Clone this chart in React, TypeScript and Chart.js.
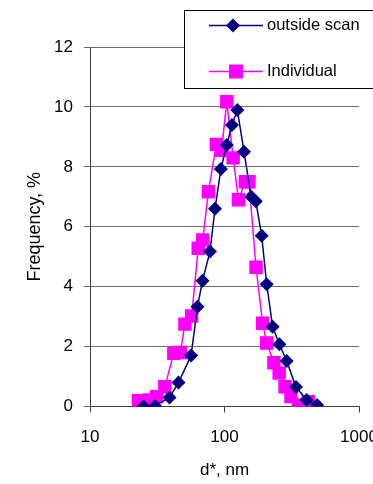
import React, { useEffect, useRef } from "react";
import { Chart, registerables } from "chart.js";

Chart.register(...registerables);

// d*, nm and Frequency, %
const outsideScanD = [25, 30.5, 39, 45.5, 56.4, 63, 68.6, 78, 85, 94, 104, 113.6, 124.6, 139.7, 158, 171, 189, 206, 228, 256, 290, 340, 408, 488];
const outsideScanF = [0, 0.02, 0.3, 0.8, 1.7, 3.33, 4.2, 5.17, 6.6, 7.93, 8.73, 9.4, 9.9, 8.5, 7.0, 6.85, 5.7, 4.08, 2.66, 2.08, 1.52, 0.65, 0.22, 0.05];

const individualD = [22.9, 27.5, 31.3, 36, 42, 47, 50.8, 57, 63.8, 68.9, 75.9, 87, 95, 104, 116, 127, 143, 152, 171.5, 192, 206, 233, 255, 282, 312, 354, 420];
const individualF = [0.19, 0.22, 0.33, 0.66, 1.78, 1.8, 2.75, 3.02, 5.28, 5.56, 7.17, 8.75, 8.55, 10.17, 8.3, 6.9, 7.5, 7.5, 4.65, 2.78, 2.12, 1.46, 1.12, 0.66, 0.33, 0.05, 0.16];

const seriesNames = ["outside scan", "Individual"];
const xTicks = [10, 100, 1000];
const yMin = 0;
const yMax = 12;
const yStep = 2;
const xTitle = "d*, nm";
const yTitle = "Frequency, %";

const FONT = "'Liberation Sans', Arial, sans-serif";

const legendPlugin = {
  id: "boxLegend",
  afterDraw(chart: any) {
    const ctx = chart.ctx;
    const ds = chart.data.datasets;
    ctx.save();
    const bx = 184.5, by = 10.5, bw = 230, bh = 78;
    ctx.fillStyle = "#ffffff";
    ctx.fillRect(bx, by, bw, bh);
    ctx.strokeStyle = "#000000";
    ctx.lineWidth = 1;
    ctx.strokeRect(bx, by, bw, bh);
    const rows = [25.5, 71.5];
    ds.forEach((d: any, i: number) => {
      const y = rows[i];
      ctx.strokeStyle = d.borderColor;
      ctx.lineWidth = 1.5;
      ctx.beginPath();
      ctx.moveTo(209, y);
      ctx.lineTo(263, y);
      ctx.stroke();
      ctx.fillStyle = d.pointBackgroundColor;
      ctx.beginPath();
      if (d.pointStyle === "rectRot") {
        const cx = 233, r = 7;
        ctx.moveTo(cx, y - r);
        ctx.lineTo(cx + r, y);
        ctx.lineTo(cx, y + r);
        ctx.lineTo(cx - r, y);
        ctx.closePath();
      } else {
        const cx = 236, s = 7;
        ctx.rect(cx - s, y - s, 2 * s, 2 * s);
      }
      ctx.fill();
      ctx.fillStyle = "#000000";
      ctx.font = `16.5px ${FONT}`;
      ctx.textAlign = "left";
      ctx.textBaseline = "middle";
      ctx.fillText(d.label, 267, y);
    });
    ctx.restore();
  },
};

export default function App() {
  const ref = useRef<HTMLCanvasElement | null>(null);

  useEffect(() => {
    if (!ref.current) return;
    const toPts = (xs: number[], ys: number[]) => xs.map((x, i) => ({ x, y: ys[i] }));
    const chart = new Chart(ref.current, {
      type: "line",
      data: {
        datasets: [
          {
            label: seriesNames[0],
            data: toPts(outsideScanD, outsideScanF),
            borderColor: "#000080",
            backgroundColor: "#000080",
            pointBackgroundColor: "#000080",
            pointBorderColor: "#000080",
            pointBorderWidth: 0,
            borderWidth: 1.5,
            pointStyle: "rectRot",
            pointRadius: 7,
            tension: 0,
          },
          {
            label: seriesNames[1],
            data: toPts(individualD, individualF),
            borderColor: "#ff00ff",
            backgroundColor: "#ff00ff",
            pointBackgroundColor: "#ff00ff",
            pointBorderColor: "#ff00ff",
            pointBorderWidth: 0,
            borderWidth: 1.5,
            pointStyle: "rect",
            pointRadius: 9.5,
            tension: 0,
          },
        ],
      },
      options: {
        animation: false,
        responsive: false,
        devicePixelRatio: 1,
        layout: { padding: { left: 0, right: 41, top: 47, bottom: 0 } },
        plugins: { legend: { display: false }, tooltip: { enabled: false } },
        scales: {
          x: {
            type: "logarithmic",
            min: 10,
            max: 1000,
            afterBuildTicks: (scale: any) => {
              scale.ticks = xTicks.map((v) => ({ value: v }));
            },
            afterFit: (scale: any) => {
              scale.height = 77.5;
            },
            grid: { drawOnChartArea: false, drawTicks: true, tickLength: 6, color: "#404040" },
            border: { display: true, color: "#404040", width: 1 },
            ticks: {
              color: "#000",
              font: { family: FONT, size: 17 },
              padding: 15,
              maxRotation: 0,
              autoSkip: false,
              callback: (v: any) => String(v),
            },
            title: {
              display: true,
              text: xTitle,
              color: "#000",
              font: { family: FONT, size: 17 },
              padding: { top: 0, bottom: 3 },
            },
          },
          y: {
            min: yMin,
            max: yMax,
            afterFit: (scale: any) => {
              scale.width = 90;
            },
            grid: { color: "#6e6e6e", tickLength: 6, drawTicks: true },
            border: { display: true, color: "#404040", width: 1 },
            ticks: {
              stepSize: yStep,
              color: "#000",
              font: { family: FONT, size: 17 },
              padding: 11,
            },
            title: {
              display: true,
              text: yTitle,
              color: "#000",
              font: { family: FONT, size: 18 },
              padding: { top: 24, bottom: 0 },
            },
          },
        },
      },
      plugins: [legendPlugin],
    } as any);
    return () => chart.destroy();
  }, []);

  return (
    <div style={{ position: "fixed", left: 0, top: 0, width: 373, height: 484, overflow: "hidden", background: "#fff" }}>
      <canvas ref={ref} width={400} height={484} style={{ display: "block" }} />
    </div>
  );
}
